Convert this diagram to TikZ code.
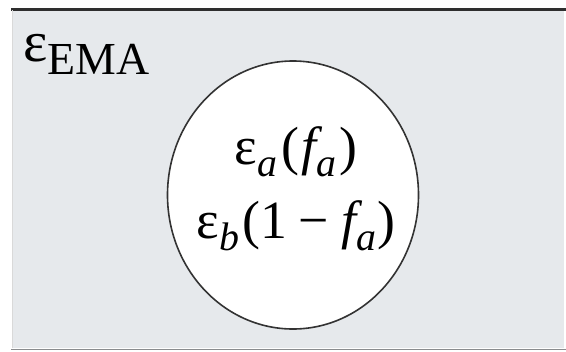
\documentclass[tikz,border=0pt]{standalone}
\usepackage{fontspec}
\setmainfont{Liberation Serif}
\usetikzlibrary{shapes.geometric}
\newcommand{\lowsub}[2]{\raisebox{-0.24em}{\fontsize{#1}{#1}\selectfont #2}}
\begin{document}
\begin{tikzpicture}[x=1bp,y=-1bp]
\tikzset{
  bigtxt/.style={font=\fontsize{58}{60}\selectfont, inner sep=0pt, anchor=base west},
  intxt/.style={font=\fontsize{54}{56}\selectfont, inner sep=0pt, anchor=base},
  incl/.style={draw=black!80, fill=white, line width=1.6bp, ellipse, minimum width=251bp, minimum height=268bp, inner sep=0pt},
}
\definecolor{panelgray}{HTML}{E6E9EC}
\definecolor{topline}{HTML}{2E2E2E}
\definecolor{botline}{HTML}{8A8C8E}
\useasboundingbox (0,0) rectangle (566,351);
\fill[white] (0,0) rectangle (566,351);
\fill[panelgray] (12,10) rectangle (564,348);
\draw[topline, line width=3bp] (11,9) -- (566,9);
\draw[botline, line width=1.5bp] (11,349.5) -- (566,349.5);
\draw[white!85!black, line width=0.6bp] (12,10) -- (12,348);
\node[incl] (c) at (293,195) {};
\node[bigtxt] (ema) at (23,61) {ε\lowsub{46}{EMA}};
\node[intxt] (la) at (296,164) {ε\lowsub{40}{\itshape a}\hspace{0.08em}(\hspace{0.05em}\itshape f\lowsub{40}{\itshape a}\upshape\hspace{0.05em})};
\node[intxt] (lb) at (296,238) {ε\lowsub{40}{\itshape b}\hspace{0.06em}(1\hspace{0.22em}−\hspace{0.22em}\itshape f\lowsub{40}{\itshape a}\upshape\hspace{0.03em})};
\end{tikzpicture}
\end{document}
